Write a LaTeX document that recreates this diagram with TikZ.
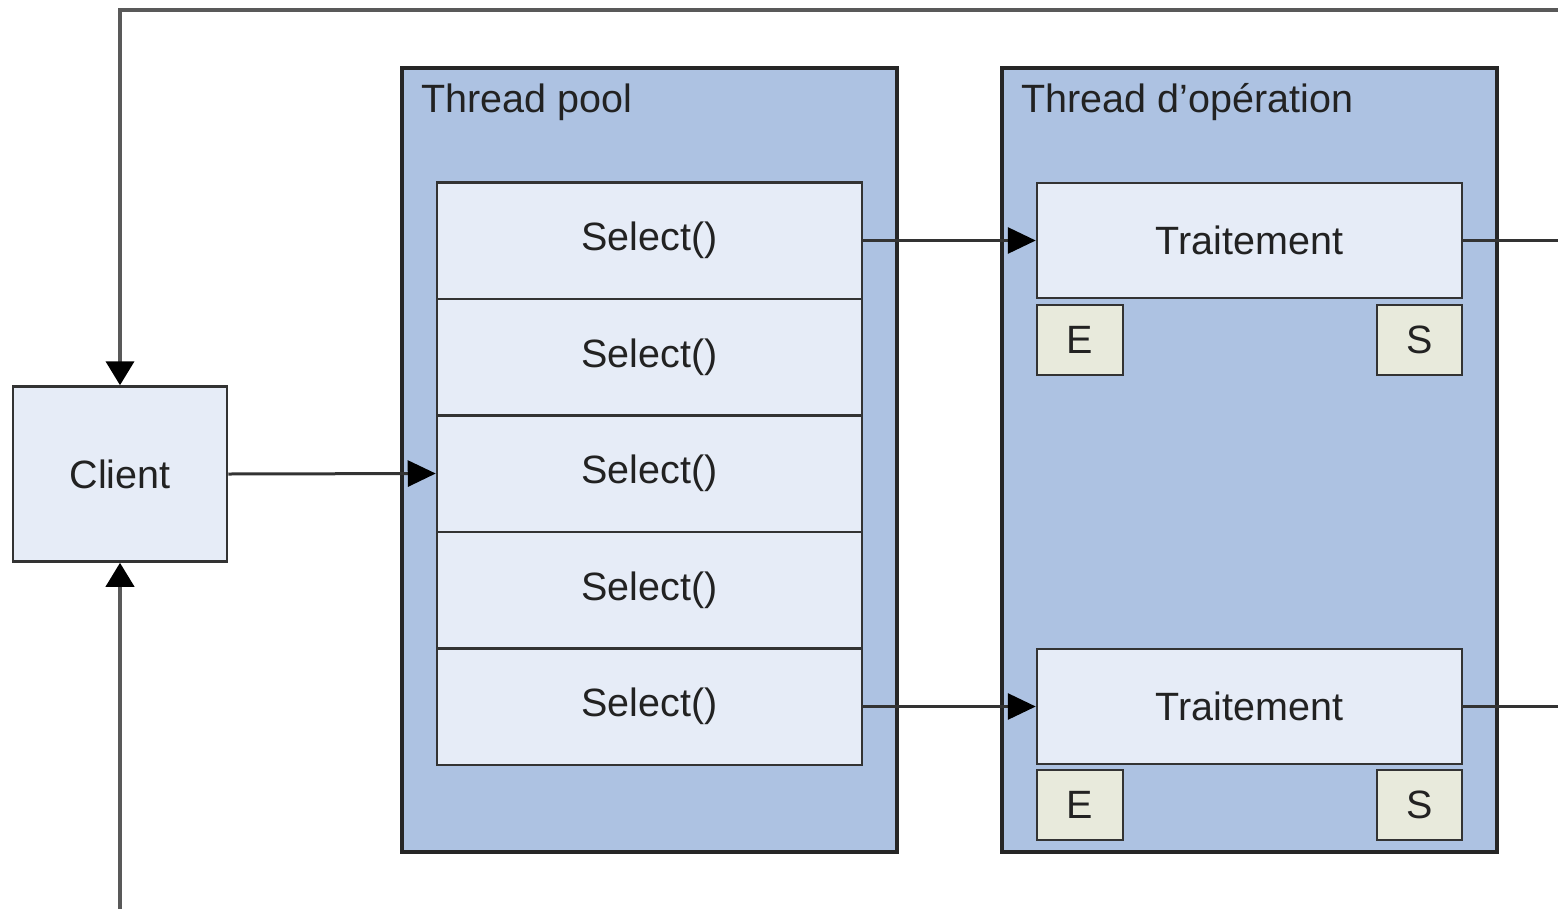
\documentclass[tikz,border=0pt]{standalone}
\usepackage{fontspec}
\setmainfont{Liberation Sans}
\usetikzlibrary{arrows.meta}
\definecolor{poolfill}{HTML}{ADC2E2}
\definecolor{boxfill}{HTML}{E6ECF7}
\definecolor{esfill}{HTML}{E8EADC}
\definecolor{txt}{HTML}{222222}
\tikzset{
  container/.style={draw=black!85, fill=poolfill, line width=3.5pt, minimum width=495pt, minimum height=784pt, inner sep=0pt},
  cell/.style={draw=black!80, fill=boxfill, line width=2.5pt, minimum width=425pt, inner sep=0pt, text=txt},
  port/.style={draw=black!80, fill=esfill, line width=2.5pt, minimum height=70pt, inner sep=0pt, text=txt},
  conn/.style={draw=black!80, line width=3pt, -{Triangle[length=28pt,width=26pt,color=black]}},
  outer/.style={draw=black!65, line width=4pt},
}
\begin{document}
\begin{tikzpicture}[x=1pt, y=-1pt, font=\fontsize{39.5}{46}\selectfont]
\useasboundingbox (0,0) rectangle (1558,908);
\clip (0,0) rectangle (1558,908);
\fill[white] (0,0) rectangle (1558,908);

% containers
\node[container] (pool) at (649.5,460) {};
\node[anchor=west, text=txt] (poollbl) at (418,102) {Thread pool};
\node[container] (ops) at (1249.5,460) {};
\node[anchor=west, text=txt] (opslbl) at (1018,102) {Thread d’opération};

% client
\node[cell, minimum width=214pt, minimum height=175pt] (client) at (120,474) {Client};

% selects
\node[cell, minimum height=116.5pt] (s1) at (649.5,240.5) {Select()};
\node[cell, minimum height=116.5pt] (s2) at (649.5,357) {Select()};
\node[cell, minimum height=116.5pt] (s3) at (649.5,473.5) {Select()};
\node[cell, minimum height=116.5pt] (s4) at (649.5,590) {Select()};
\node[cell, minimum height=116.5pt] (s5) at (649.5,706.5) {Select()};

% traitements
\node[cell, minimum height=115pt] (t1) at (1249.5,240.5) {Traitement};
\node[port, minimum width=86pt] (e1) at (1080,340) {E};
\node[port, minimum width=85pt] (o1) at (1419.5,340) {S};
\node[cell, minimum height=115pt] (t2) at (1249.5,706.5) {Traitement};
\node[port, minimum width=86pt] (e2) at (1080,805) {E};
\node[port, minimum width=85pt] (o2) at (1419.5,805) {S};

% free ends
\coordinate (topR) at (1560,10);
\coordinate (botC) at (120,910);
\coordinate (t1R) at (1560,240.5);
\coordinate (t2R) at (1560,706.5);

% connectors
\draw[conn] (client.east) -- (s3.west);
\draw[conn] (s1.east) -- (t1.west);
\draw[conn] (s5.east) -- (t2.west);
\draw[draw=black!80, line width=3pt] (t1.east) -- (t1R);
\draw[draw=black!80, line width=3pt] (t2.east) -- (t2R);
\draw[outer, -{Triangle[length=24pt,width=28pt,color=black]}] (topR) -| (client.north);
\draw[outer, -{Triangle[length=24pt,width=28pt,color=black]}] (botC) -- (client.south);
\end{tikzpicture}
\end{document}
